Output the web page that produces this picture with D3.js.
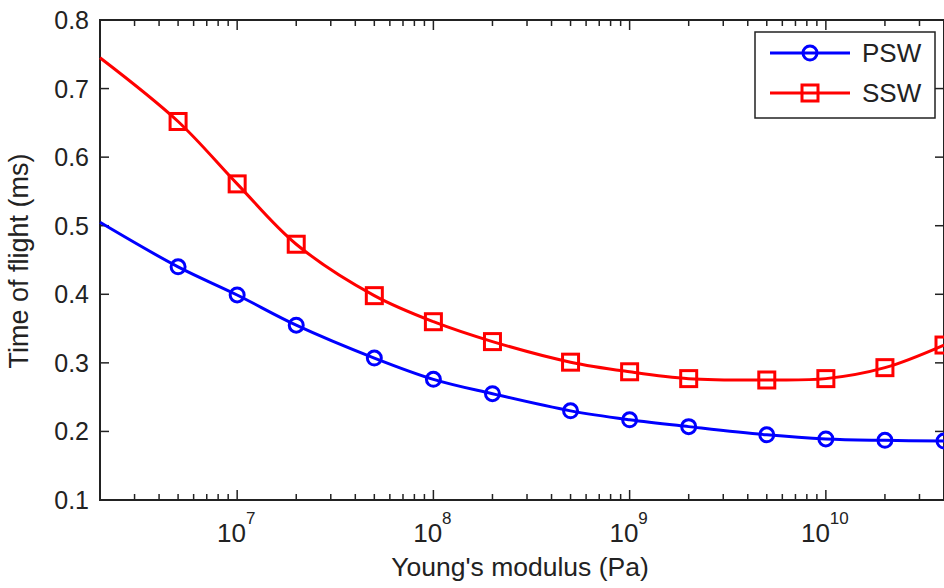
<!DOCTYPE html>
<html>
<head>
<meta charset="utf-8">
<script src="https://cdn.jsdelivr.net/npm/d3@7"></script>
<style>
  body { margin: 0; background: #fff; }
  svg { display: block; font-family: "Liberation Sans", Arial, Helvetica, sans-serif; }
</style>
</head>
<body>
<div id="chart"></div>
<script>
// Young's modulus (Pa) sample points
const modulus = [2e6, 5e6, 1e7, 2e7, 5e7, 1e8, 2e8, 5e8, 1e9, 2e9, 5e9, 1e10, 2e10, 4e10];
// time of flight (ms)
const psw = [0.505, 0.440, 0.399, 0.355, 0.307, 0.276, 0.255, 0.230, 0.217, 0.207, 0.195, 0.189, 0.187, 0.186];
const ssw = [0.745, 0.652, 0.561, 0.473, 0.398, 0.360, 0.331, 0.301, 0.287, 0.277, 0.275, 0.277, 0.293, 0.326];
// first point is only where the line starts, no marker there
const markerFrom = 1;
const yTicks = [0.1, 0.2, 0.3, 0.4, 0.5, 0.6, 0.7, 0.8];
const xMajor = [1e7, 1e8, 1e9, 1e10];

const width = 944, height = 588;
const margin = { top: 20, right: 0, bottom: 88, left: 100 };

const svg = d3.select("#chart").append("svg")
  .attr("width", width)
  .attr("height", height);

const x = d3.scaleLog()
  .domain([2e6, 4e10])
  .range([margin.left, width - margin.right]);
const y = d3.scaleLinear()
  .domain([0.1, 0.8])
  .range([height - margin.bottom, margin.top]);

const x0 = margin.left, x1 = width - margin.right;
const y0 = height - margin.bottom, y1 = margin.top;

// minor log ticks
const minor = [];
for (let e = 6; e <= 10; e++) {
  for (let m = 2; m <= 9; m++) {
    const v = m * Math.pow(10, e);
    if (v >= 2e6 && v <= 4e10) minor.push(v);
  }
}

const ticks = svg.append("g").attr("stroke", "#222").attr("stroke-width", 1.5);
minor.forEach((v) => {
  ticks.append("line").attr("x1", x(v)).attr("x2", x(v)).attr("y1", y0).attr("y2", y0 - 6);
  ticks.append("line").attr("x1", x(v)).attr("x2", x(v)).attr("y1", y1).attr("y2", y1 + 6);
});
xMajor.forEach((v) => {
  ticks.append("line").attr("x1", x(v)).attr("x2", x(v)).attr("y1", y0).attr("y2", y0 - 10);
  ticks.append("line").attr("x1", x(v)).attr("x2", x(v)).attr("y1", y1).attr("y2", y1 + 10);
});
yTicks.forEach((v) => {
  ticks.append("line").attr("x1", x0).attr("x2", x0 + 9).attr("y1", y(v)).attr("y2", y(v));
  ticks.append("line").attr("x1", x1).attr("x2", x1 - 9).attr("y1", y(v)).attr("y2", y(v));
});

// axes box
svg.append("rect")
  .attr("x", x0).attr("y", y1)
  .attr("width", x1 - x0).attr("height", y0 - y1)
  .attr("fill", "none")
  .attr("stroke", "#222")
  .attr("stroke-width", 2);

// y tick labels
svg.append("g").selectAll("text")
  .data(yTicks)
  .join("text")
  .attr("x", x0 - 11)
  .attr("y", (d) => y(d))
  .attr("dy", "0.36em")
  .attr("text-anchor", "end")
  .attr("font-size", 25)
  .attr("fill", "#222")
  .text((d) => d.toFixed(1));

// x tick labels 10^n
const xl = svg.append("g").selectAll("text")
  .data(xMajor)
  .join("text")
  .attr("x", (d) => x(d) - 1)
  .attr("y", y0 + 42)
  .attr("text-anchor", "middle")
  .attr("font-size", 26)
  .attr("fill", "#222");
xl.append("tspan").text("10");
xl.append("tspan")
  .attr("dy", -18)
  .attr("font-size", 17)
  .text((d) => Math.round(Math.log10(d)));

// axis titles
svg.append("text")
  .attr("x", 520)
  .attr("y", 576)
  .attr("text-anchor", "middle")
  .attr("font-size", 26.5)
  .attr("fill", "#222")
  .text("Young's modulus (Pa)");

svg.append("text")
  .attr("transform", "translate(28,261) rotate(-90)")
  .attr("text-anchor", "middle")
  .attr("font-size", 27)
  .attr("fill", "#222")
  .text("Time of flight (ms)");

const plot = svg.append("g");

const line = d3.line()
  .x((d, i) => x(modulus[i]))
  .y((d) => y(d))
  .curve(d3.curveCatmullRom.alpha(0.5));

const series = [
  { name: "PSW", values: psw, color: "#0000ff", marker: "circle" },
  { name: "SSW", values: ssw, color: "#ff0000", marker: "square" },
];

function drawMarker(g, type, cx, cy, color) {
  if (type === "circle") {
    g.append("circle").attr("cx", cx).attr("cy", cy).attr("r", 7)
      .attr("fill", "none").attr("stroke", color).attr("stroke-width", 3);
  } else {
    g.append("rect").attr("x", cx - 8).attr("y", cy - 8).attr("width", 16).attr("height", 16)
      .attr("fill", "none").attr("stroke", color).attr("stroke-width", 3);
  }
}

series.forEach((s) => {
  plot.append("path")
    .datum(s.values)
    .attr("fill", "none")
    .attr("stroke", s.color)
    .attr("stroke-width", 3)
    .attr("d", line);
  const mg = plot.append("g");
  s.values.forEach((v, i) => {
    if (i >= markerFrom) drawMarker(mg, s.marker, x(modulus[i]), y(v), s.color);
  });
});

// legend
const lg = svg.append("g");
lg.append("rect")
  .attr("x", 755).attr("y", 32).attr("width", 180).attr("height", 86)
  .attr("fill", "#fff").attr("stroke", "#222").attr("stroke-width", 1.5);
series.forEach((s, i) => {
  const ly = 53 + i * 40;
  lg.append("line").attr("x1", 770).attr("x2", 850).attr("y1", ly).attr("y2", ly)
    .attr("stroke", s.color).attr("stroke-width", 3);
  drawMarker(lg, s.marker, 810, ly, s.color);
  lg.append("text").attr("x", 862).attr("y", ly).attr("dy", "0.36em")
    .attr("font-size", 26).attr("fill", "#222").text(s.name);
});
</script>
</body>
</html>
